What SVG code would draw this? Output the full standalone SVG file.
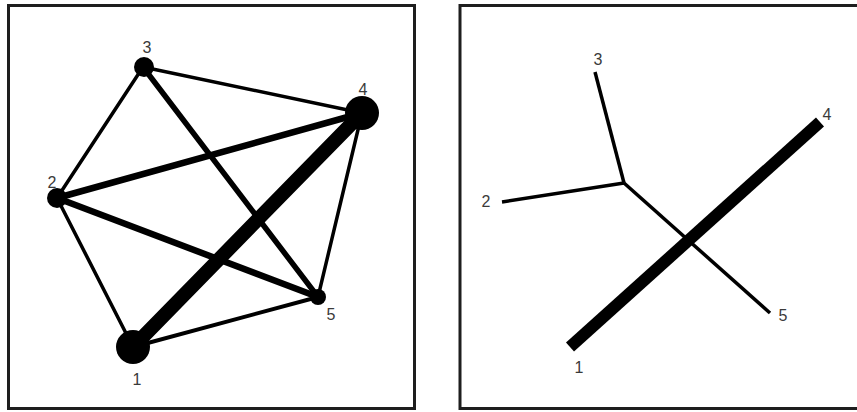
<svg xmlns="http://www.w3.org/2000/svg" width="857" height="412" viewBox="0 0 857 412">
<style>
.frame{fill:none;stroke:#1e1e1e;stroke-width:3}
.e{stroke:#000;fill:none;stroke-linecap:round}
.t{stroke:#000;fill:none}
.n{fill:#000}
.lbl{font-family:"Liberation Sans",Arial,sans-serif;font-size:16px;fill:#3a3a3a;text-anchor:middle}
</style>
<rect width="857" height="412" fill="#fff"/>
<rect class="frame" x="8.5" y="5.5" width="406" height="403"/>
<rect class="frame" x="460" y="5.5" width="400" height="403"/>
<g id="connectors-left">
<line class="e" x1="143" y1="67" x2="362" y2="113" stroke-width="3.5"/>
<line class="e" x1="143" y1="67" x2="57" y2="198" stroke-width="3.5"/>
<line class="e" x1="143" y1="67" x2="318" y2="297" stroke-width="5.5"/>
<line class="e" x1="57" y1="198" x2="362" y2="113" stroke-width="6.5"/>
<line class="e" x1="57" y1="198" x2="318" y2="297" stroke-width="6.5"/>
<line class="e" x1="57" y1="198" x2="133" y2="347" stroke-width="3.5"/>
<line class="e" x1="133" y1="347" x2="318" y2="297" stroke-width="4"/>
<line class="e" x1="362" y1="113" x2="318" y2="297" stroke-width="3.5"/>
<line class="e" x1="133" y1="347" x2="362" y2="113" stroke-width="14"/>
</g>
<g id="node-1"><circle class="n" cx="133" cy="347" r="17"/><text class="lbl" x="137" y="385">1</text></g>
<g id="node-2"><circle class="n" cx="57" cy="198" r="10"/><text class="lbl" x="52" y="188">2</text></g>
<g id="node-3"><circle class="n" cx="144" cy="67" r="10"/><text class="lbl" x="147" y="53">3</text></g>
<g id="node-4"><circle class="n" cx="362" cy="113" r="17"/><text class="lbl" x="363" y="95">4</text></g>
<g id="node-5"><circle class="n" cx="318" cy="297" r="8"/><text class="lbl" x="331" y="320">5</text></g>
<g id="connectors-right">
<line class="t" x1="595" y1="72" x2="624" y2="183" stroke-width="3.5"/>
<line class="t" x1="502" y1="202" x2="624" y2="183" stroke-width="3.5"/>
<line class="t" x1="624" y1="183" x2="770" y2="313" stroke-width="3.5"/>
<line class="t" x1="570" y1="347" x2="820" y2="122" stroke-width="12"/>
</g>
<g id="tree-labels">
<text class="lbl" x="598" y="65">3</text>
<text class="lbl" x="827" y="120">4</text>
<text class="lbl" x="486" y="207">2</text>
<text class="lbl" x="783" y="321">5</text>
<text class="lbl" x="579" y="373">1</text>
</g>
</svg>
